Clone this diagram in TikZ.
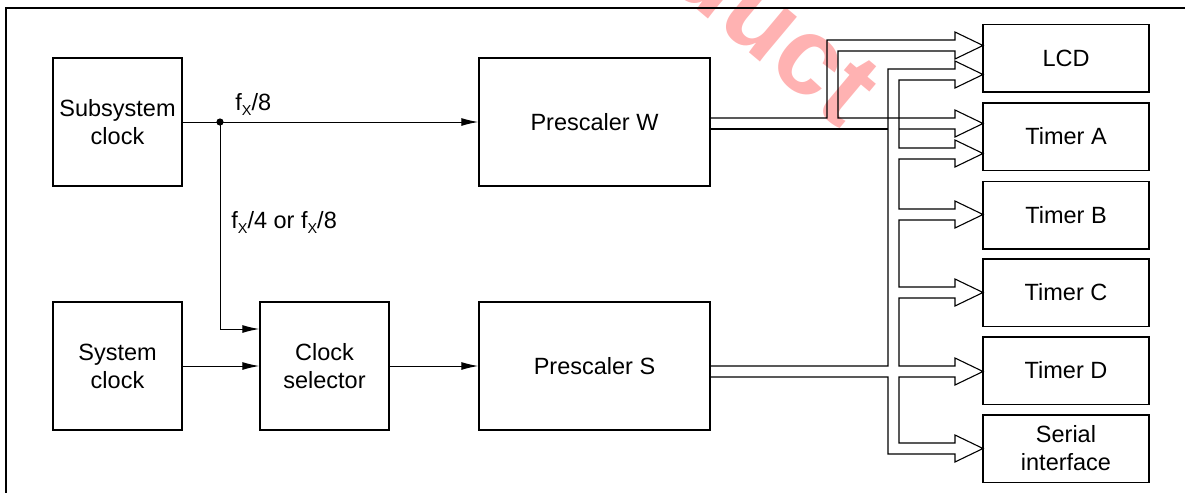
\documentclass[tikz,border=0pt]{standalone}
\usepackage{fontspec}
\setmainfont{Liberation Sans}
\usetikzlibrary{arrows.meta,calc}
\newcommand\subX{\raisebox{-2.5pt}{\fontsize{7.2}{8}\selectfont X}}
\begin{document}
\begin{tikzpicture}[x=0.5pt,y=-0.5pt,
  every node/.style={font=\fontsize{11.75}{14}\selectfont},
  blk/.style={draw, line width=0.75pt, inner sep=0pt, align=center},
  big/.style={blk, minimum width=64.5pt, minimum height=64pt},
  wide/.style={blk, minimum width=115.5pt, minimum height=64pt},
  unit/.style={blk, minimum width=83pt, minimum height=33.75pt},
  sig/.style={line width=0.5pt, -{Latex[length=8.5pt,width=4pt]}},
  pipe/.style={line width=0.55pt, line join=miter},
  lbl/.style={inner sep=0pt, anchor=base west}]
\useasboundingbox (0,0) rectangle (1185,493);
% watermark
\begin{scope}
\clip (0,0) rectangle (1185,493);
\node[rotate=-40, text=red!30, font=\fontsize{55}{55}\selectfont\bfseries, inner sep=0pt] (wm) at (777,25) {duct};
\end{scope}
% frame
\draw[line width=0.7pt] (1185,8) -- (6,8) -- (6,493);
% blocks
\node[big] (sub) at (117.5,122) {Subsystem\\clock};
\node[big] (sys) at (117.5,366) {System\\clock};
\node[big] (cs) at (324.5,366) {Clock\\selector};
\node[wide] (pw) at (594.5,122) {Prescaler W};
\node[wide] (ps) at (594.5,366) {Prescaler S};
\node[unit] (lcd) at (1066,58) {LCD};
\node[unit] (ta) at (1066,136.5) {Timer A};
\node[unit] (tb) at (1066,215) {Timer B};
\node[unit] (tc) at (1066,292.5) {Timer C};
\node[unit] (td) at (1066,370.5) {Timer D};
\node[unit] (si) at (1066,448.5) {Serial\\interface};
% signal lines
\coordinate (j) at (220,122);
\coordinate (k) at (220,329);
\draw[sig] (sub) -- (pw);
\fill (j) circle[radius=1.8pt];
\draw[sig] (j) -- (k) -- (cs.west |- k);
\draw[sig] (sys) -- (cs);
\draw[sig] (cs) -- (ps);
\node[lbl] (l1) at (235,110) {f\subX/8};
\node[lbl] (l2) at (231,228) {f\subX/4 or f\subX/8};
% bus from Prescaler W
\draw[pipe] (710,118) -- (827,118) -- (827,40) -- (955,40) -- (955,32) -- (983,45.5) -- (955,59) -- (955,51) -- (838,51) -- (838,118) -- (955,118) -- (955,110) -- (983,123.5) -- (955,137) -- (955,129) -- (899,129);
\draw[pipe] (888,129) -- (710,129);
% bus from Prescaler S
\draw[pipe] (710,366) -- (888,366) -- (888,69) -- (955,69) -- (955,61) -- (983,74.5) -- (955,88) -- (955,80) -- (899,80) -- (899,148) -- (955,148) -- (955,140) -- (983,153.5) -- (955,167) -- (955,159) -- (899,159) -- (899,209) -- (955,209) -- (955,201) -- (983,214.5) -- (955,228) -- (955,220) -- (899,220) -- (899,287) -- (955,287) -- (955,279) -- (983,292.5) -- (955,306) -- (955,298) -- (899,298) -- (899,366) -- (955,366) -- (955,358) -- (983,371.5) -- (955,385) -- (955,377) -- (899,377) -- (899,443) -- (955,443) -- (955,435) -- (983,448.5) -- (955,462) -- (955,454) -- (888,454) -- (888,377) -- (710,377);
\end{tikzpicture}
\end{document}
